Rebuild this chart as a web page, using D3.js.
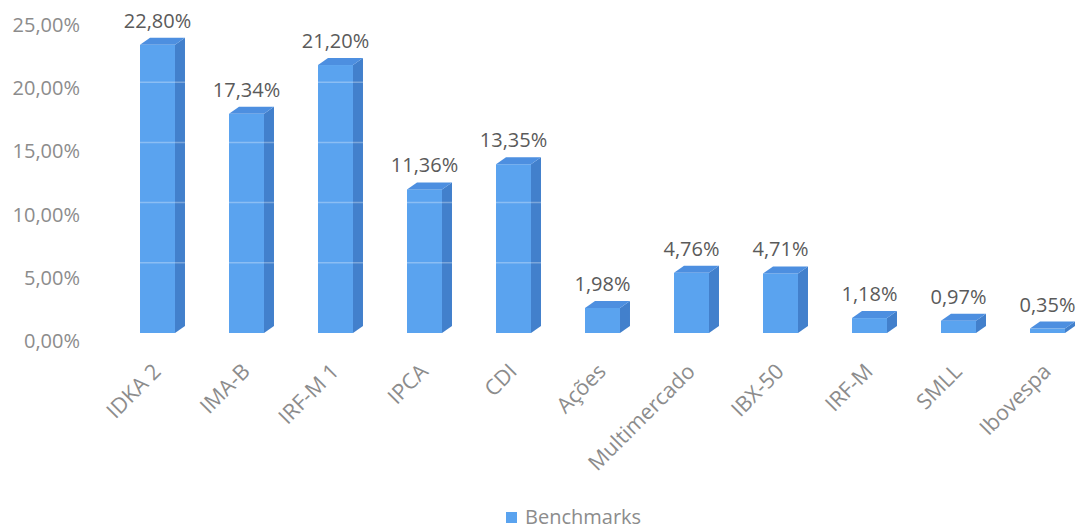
<!DOCTYPE html>
<html>
<head>
<meta charset="utf-8">
<script src="https://cdn.jsdelivr.net/npm/d3@7"></script>
<style>
  html, body { margin: 0; padding: 0; background: #fff; }
  svg { display: block; }
  text { font-family: "Open Sans", "Lato", sans-serif; }
</style>
</head>
<body>
<svg id="chart" width="1081" height="529"></svg>
<script>
const categories = ["IDKA 2", "IMA-B", "IRF-M 1", "IPCA", "CDI", "Ações", "Multimercado", "IBX-50", "IRF-M", "SMLL", "Ibovespa"];
const values = [22.80, 17.34, 21.20, 11.36, 13.35, 1.98, 4.76, 4.71, 1.18, 0.97, 0.35];
const valueLabels = ["22,80%", "17,34%", "21,20%", "11,36%", "13,35%", "1,98%", "4,76%", "4,71%", "1,18%", "0,97%", "0,35%"];
const yTicks = [0, 5, 10, 15, 20, 25];
const yTickLabels = ["0,00%", "5,00%", "10,00%", "15,00%", "20,00%", "25,00%"];
const seriesName = "Benchmarks";

const svg = d3.select("#chart");

// front-face scale and back-wall scale (3D perspective)
const y = d3.scaleLinear().domain([0, 25]).range([333, 17]);
const yBack = d3.scaleLinear().domain([0, 25]).range([323, 22]);
const x = d3.scaleBand().domain(categories).range([113, 1092])
  .paddingInner(0.607).paddingOuter(0.3035);

const dx = 10, dy = -7;
const cFront = "#5aa3ef", cSide = "#4280cc", cTop = "#4d8fe0";

// y axis labels (offset to front floor edge)
const yAxis = d3.axisLeft(y).tickValues(yTicks)
  .tickFormat((d, i) => yTickLabels[i]).tickSize(0).tickPadding(0);
const ga = svg.append("g").attr("transform", "translate(80,8)").call(yAxis);
ga.select(".domain").remove();
ga.selectAll("text").attr("fill", "#8c8c8c").style("font-size", "20px")
  .style("font-family", '"Open Sans", sans-serif');

// bars
const bars = svg.append("g").selectAll("g").data(categories).join("g");
bars.each(function (c, i) {
  const g = d3.select(this);
  const x0 = x(c), w = x.bandwidth();
  const yt = y(values[i]), yb = y(0);
  g.append("path")
    .attr("d", `M${x0 + w},${yt} L${x0 + w + dx},${yt + dy} L${x0 + w + dx},${yb + dy} L${x0 + w},${yb} Z`)
    .attr("fill", cSide);
  g.append("rect").attr("x", x0).attr("y", yt).attr("width", w).attr("height", yb - yt)
    .attr("fill", cFront);
  g.append("path")
    .attr("d", `M${x0},${yt} L${x0 + dx},${yt + dy} L${x0 + w + dx},${yt + dy} L${x0 + w},${yt} Z`)
    .attr("fill", cTop);
});

// faint gridlines (visible over the bars only)
svg.append("g").selectAll("line").data(yTicks.filter(d => d > 0)).join("line")
  .attr("x1", 100).attr("x2", 1075)
  .attr("y1", d => yBack(d)).attr("y2", d => yBack(d))
  .attr("stroke", "#fff").attr("stroke-opacity", 0.3).attr("stroke-width", 1.5);

// value labels
svg.append("g").selectAll("text").data(categories).join("text")
  .attr("x", c => x(c) + x.bandwidth() / 2)
  .attr("y", (c, i) => y(values[i]) - 17)
  .attr("text-anchor", "middle")
  .attr("fill", "#5a5a5a").style("font-size", "20px")
  .text((c, i) => valueLabels[i]);

// category labels
svg.append("g").selectAll("text").data(categories).join("text")
  .attr("transform", c => `translate(${x(c) + x.bandwidth() / 2 - 6},${362}) rotate(-45)`)
  .attr("text-anchor", "end")
  .attr("dy", "0.71em")
  .attr("fill", "#8c8c8c").style("font-size", "21.5px")
  .text(c => c);

// legend
const lg = svg.append("g").attr("transform", "translate(506,512)");
lg.append("rect").attr("width", 11).attr("height", 11).attr("fill", cFront);
lg.append("text").attr("x", 19).attr("y", 12).attr("fill", "#8c8c8c")
  .style("font-size", "20px").text(seriesName);
</script>
</body>
</html>
